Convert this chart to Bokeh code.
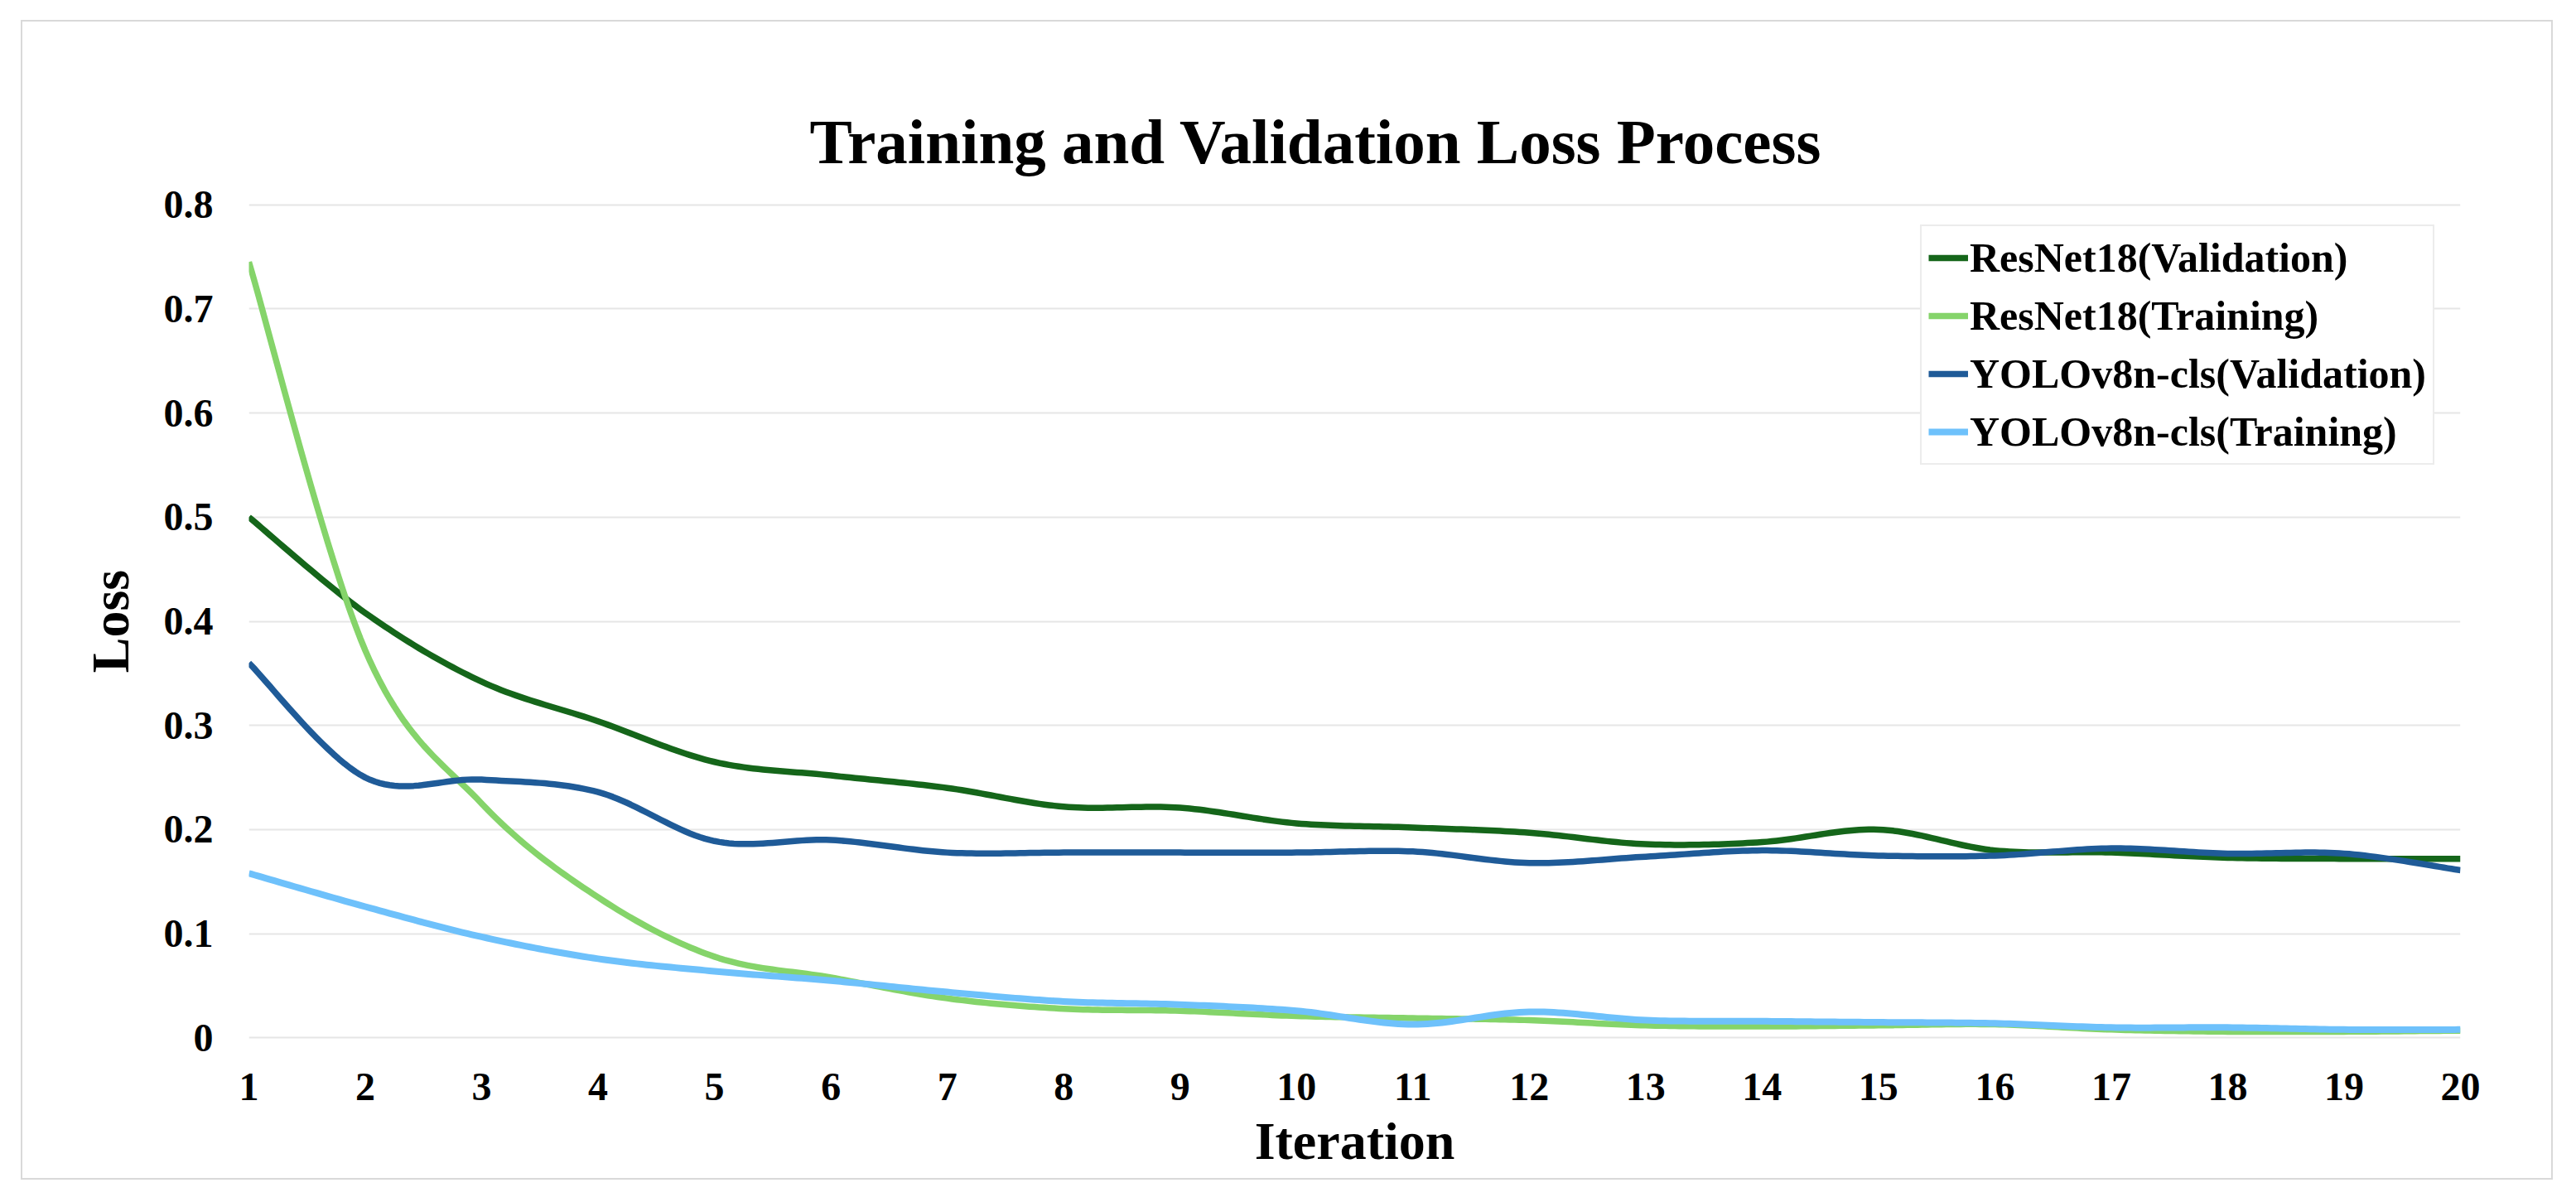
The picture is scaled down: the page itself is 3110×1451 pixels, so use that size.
import numpy as np
from bokeh.plotting import figure
from bokeh.models import Range1d, FixedTicker, Legend, LegendItem
from bokeh.embed import file_html
from bokeh.resources import INLINE

# ---------------- data ----------------
iterations = list(range(1, 21))
resnet_val = [0.500, 0.408, 0.342, 0.304, 0.265, 0.252, 0.240, 0.222, 0.221, 0.206,
              0.202, 0.197, 0.186, 0.188, 0.200, 0.180, 0.178, 0.173, 0.172, 0.172]
resnet_train = [0.745, 0.372, 0.225, 0.135, 0.078, 0.058, 0.038, 0.028, 0.026, 0.021,
                0.019, 0.017, 0.012, 0.011, 0.012, 0.013, 0.008, 0.006, 0.006, 0.007]
yolo_val = [0.360, 0.250, 0.248, 0.236, 0.189, 0.190, 0.178, 0.178, 0.178, 0.178,
            0.179, 0.168, 0.174, 0.180, 0.175, 0.175, 0.182, 0.177, 0.177, 0.161]
yolo_train = [0.158, 0.126, 0.097, 0.076, 0.064, 0.055, 0.044, 0.035, 0.032, 0.026,
              0.013, 0.025, 0.017, 0.016, 0.015, 0.014, 0.010, 0.010, 0.008, 0.008]

series_names = ["ResNet18(Validation)", "ResNet18(Training)",
                "YOLOv8n-cls(Validation)", "YOLOv8n-cls(Training)"]
series_values = [resnet_val, resnet_train, yolo_val, yolo_train]
series_colors = ["#15661a", "#85d46a", "#1f5b98", "#6ec1fb"]

y_ticks = [0, 0.1, 0.2, 0.3, 0.4, 0.5, 0.6, 0.7, 0.8]
y_tick_labels = ["0", "0.1", "0.2", "0.3", "0.4", "0.5", "0.6", "0.7", "0.8"]
x_tick_labels = [str(i) for i in iterations]

FONT = "Liberation Serif"


def smooth_curve(xs, ys, steps=24):
    """Excel-style smoothed line (cubic Bezier through every data point)."""
    x = np.asarray(xs, float)
    y = np.asarray(ys, float)
    n = len(x)
    px = np.concatenate([[x[0]], x, [x[-1]]])
    py = np.concatenate([[y[0]], y, [y[-1]]])
    out_x, out_y = [], []
    t = np.linspace(0, 1, steps, endpoint=False)
    for i in range(n - 1):
        p0x, p0y = px[i + 1], py[i + 1]
        p1x, p1y = px[i + 2], py[i + 2]
        c1x = p0x + (px[i + 2] - px[i]) / 6.0
        c1y = p0y + (py[i + 2] - py[i]) / 6.0
        c2x = p1x - (px[i + 3] - px[i + 1]) / 6.0
        c2y = p1y - (py[i + 3] - py[i + 1]) / 6.0
        a = (1 - t) ** 3
        b = 3 * (1 - t) ** 2 * t
        c = 3 * (1 - t) * t ** 2
        d = t ** 3
        out_x.extend(a * p0x + b * c1x + c * c2x + d * p1x)
        out_y.extend(a * p0y + b * c1y + c * c2y + d * p1y)
    out_x.append(x[-1])
    out_y.append(y[-1])
    return out_x, out_y


W, H = 3057, 1400
p = figure(width=W, height=H, output_backend="svg", toolbar_location=None,
           x_range=Range1d(1, 20), y_range=Range1d(-0.01, 0.81),
           min_border_left=273, min_border_right=114,
           min_border_top=208, min_border_bottom=161)
p.margin = (24, 0, 0, 25)
p.styles = {"border": "2px solid #d9d9d9"}
p.outline_line_color = None
p.background_fill_color = "white"
p.border_fill_color = "white"

# title
p.title.text = "Training and Validation Loss Process"
p.title.text_font = FONT
p.title.text_font_style = "bold"
p.title.text_font_size = "77px"
p.title.text_color = "black"
p.title.align = "left"
p.title.offset = 677
p.title.standoff = 41

# axes
p.xaxis.ticker = FixedTicker(ticks=iterations)
p.xaxis.major_label_overrides = dict(zip(iterations, x_tick_labels))
p.yaxis.ticker = FixedTicker(ticks=y_ticks)
p.yaxis.major_label_overrides = dict(zip(y_ticks, y_tick_labels))
for ax in (p.xaxis, p.yaxis):
    ax.axis_line_color = None
    ax.major_tick_line_color = None
    ax.minor_tick_line_color = None
    ax.major_tick_out = 0
    ax.major_tick_in = 0
    ax.major_label_text_font = FONT
    ax.major_label_text_font_style = "bold"
    ax.major_label_text_font_size = "48px"
    ax.major_label_text_color = "black"
    ax.axis_label_text_font = FONT
    ax.axis_label_text_font_style = "bold"
    ax.axis_label_text_font_size = "64px"
    ax.axis_label_text_color = "black"
p.xaxis.axis_label = "Iteration"
p.yaxis.axis_label = "Loss"
p.xaxis.major_label_standoff = 30
p.yaxis.major_label_standoff = 43
p.xaxis.axis_label_standoff = 11
p.yaxis.axis_label_standoff = 26

p.xgrid.grid_line_color = None
p.ygrid.grid_line_color = "#e6e6e6"
p.ygrid.grid_line_width = 2

# lines
items = []
for name, vals, col in zip(series_names, series_values, series_colors):
    sx, sy = smooth_curve(iterations, vals)
    lw = 8 if col == "#6ec1fb" else 7.5
    r = p.line(sx, sy, line_color=col, line_width=lw, line_join="round")
    items.append(LegendItem(label=name, renderers=[r]))

legend = Legend(items=items, location=(2018, 704))
legend.label_text_font = FONT
legend.label_text_font_style = "bold"
legend.label_text_font_size = "50px"
legend.label_text_color = "black"
legend.glyph_width = 48
legend.glyph_height = 60
legend.label_height = 60
legend.label_standoff = 2
legend.padding = 8
legend.spacing = 10
legend.margin = 0
legend.border_line_color = "#d9d9d9"
legend.border_line_width = 2
legend.background_fill_color = "white"
legend.background_fill_alpha = 1.0
p.add_layout(legend)

open("out.html", "w").write(file_html(p, INLINE))
